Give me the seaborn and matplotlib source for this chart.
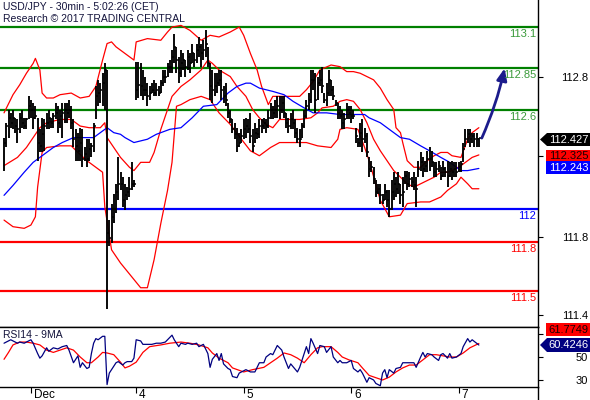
import matplotlib
matplotlib.use("Agg")
import matplotlib.pyplot as plt
from matplotlib.patches import Polygon
from matplotlib.lines import Line2D
import numpy as np
import pandas as pd
import seaborn as sns

# ---------------- data (USD/JPY 30min bars) ----------------
high = [
112.43,112.52,112.60,112.58,112.60,112.55,112.54,112.58,112.60,112.55,
112.55,112.68,112.66,112.64,112.62,112.55,112.48,112.55,112.54,112.58,
112.60,112.55,112.58,112.64,112.62,112.60,112.64,112.64,112.64,112.66,
112.62,112.54,112.48,112.46,112.49,112.48,112.37,112.42,112.42,112.40,
112.52,112.74,112.78,112.76,112.82,112.88,112.84,111.93,112.03,112.09,
112.15,112.31,112.22,112.19,112.15,112.13,112.19,112.28,112.17,112.89,
112.89,112.88,112.84,112.80,112.76,112.74,112.76,112.78,112.76,112.74,
112.78,112.84,112.84,112.88,112.90,112.96,113.06,112.98,112.92,112.96,
112.94,112.90,112.96,112.94,113.00,112.94,113.00,113.04,113.00,113.02,
113.08,112.98,112.88,112.84,112.82,112.82,112.84,112.84,112.74,112.76,
112.64,112.60,112.54,112.52,112.49,112.46,112.48,112.54,112.55,112.54,
112.58,112.48,112.52,112.49,112.54,112.54,112.55,112.54,112.60,112.64,
112.62,112.66,112.68,112.68,112.68,112.68,112.58,112.55,112.58,112.60,
112.54,112.49,112.48,112.52,112.60,112.66,112.70,112.84,112.84,112.82,
112.80,112.84,112.86,112.70,112.76,112.84,112.78,112.74,112.66,112.64,
112.62,112.60,112.58,112.64,112.62,112.62,112.60,112.49,112.43,112.52,
112.54,112.49,112.46,112.31,112.29,112.25,112.17,112.15,112.15,112.09,
112.15,112.11,112.11,112.17,112.22,112.19,112.22,112.15,112.19,112.23,
112.23,112.22,112.19,112.22,112.19,112.29,112.34,112.31,112.29,112.35,
112.37,112.35,112.28,112.28,112.29,112.25,112.29,112.25,112.29,112.28,
112.29,112.28,112.28,112.28,112.29,112.40,112.48,112.48,112.48,112.46,
112.46,112.46,112.43]

low = [
112.23,112.37,112.43,112.49,112.48,112.46,112.40,112.46,112.49,112.48,
112.48,112.54,112.55,112.48,112.54,112.29,112.34,112.34,112.35,112.48,
112.48,112.49,112.49,112.54,112.46,112.49,112.43,112.52,112.52,112.55,
112.48,112.37,112.29,112.29,112.29,112.25,112.29,112.25,112.29,112.31,
112.34,112.54,112.62,112.64,112.62,112.60,111.39,111.77,111.79,111.91,
111.97,112.05,112.11,112.01,111.99,112.05,112.07,112.11,112.13,112.66,
112.67,112.68,112.66,112.68,112.62,112.66,112.70,112.68,112.68,112.68,
112.70,112.74,112.76,112.80,112.82,112.82,112.88,112.82,112.76,112.80,
112.84,112.80,112.84,112.82,112.88,112.86,112.88,112.92,112.86,112.90,
112.92,112.86,112.66,112.64,112.68,112.70,112.74,112.66,112.64,112.62,
112.55,112.52,112.46,112.42,112.34,112.37,112.40,112.42,112.43,112.46,
112.40,112.34,112.40,112.42,112.43,112.46,112.48,112.46,112.49,112.54,
112.54,112.55,112.55,112.54,112.58,112.55,112.49,112.46,112.48,112.48,
112.43,112.40,112.37,112.43,112.49,112.55,112.60,112.64,112.72,112.58,
112.66,112.74,112.70,112.64,112.62,112.68,112.68,112.66,112.62,112.54,
112.54,112.48,112.48,112.54,112.54,112.52,112.54,112.40,112.37,112.37,
112.34,112.40,112.31,112.19,112.22,112.15,112.07,112.09,112.03,112.03,
112.05,112.01,111.95,111.99,112.05,112.07,112.09,112.03,112.01,112.15,
112.11,112.13,112.13,112.11,112.01,112.19,112.23,112.19,112.22,112.22,
112.23,112.25,112.19,112.19,112.22,112.17,112.19,112.19,112.13,112.19,
112.17,112.19,112.19,112.22,112.22,112.28,112.37,112.40,112.37,112.40,
112.37,112.37,112.37]

close = [
112.40,112.50,112.55,112.52,112.55,112.50,112.48,112.55,112.52,112.50,
112.54,112.62,112.60,112.55,112.56,112.40,112.38,112.45,112.50,112.52,
112.55,112.52,112.56,112.58,112.52,112.56,112.58,112.60,112.58,112.60,
112.52,112.42,112.38,112.35,112.40,112.30,112.33,112.30,112.36,112.38,
112.50,112.68,112.70,112.72,112.76,112.84,111.85,111.82,111.95,112.00,
112.10,112.15,112.15,112.05,112.08,112.10,112.12,112.15,112.15,112.72,
112.75,112.74,112.72,112.72,112.68,112.70,112.72,112.70,112.72,112.70,
112.76,112.80,112.80,112.86,112.86,112.92,112.98,112.90,112.82,112.88,
112.90,112.86,112.92,112.88,112.94,112.90,112.96,112.98,112.94,112.96,
113.00,112.88,112.74,112.72,112.74,112.76,112.78,112.72,112.68,112.66,
112.58,112.54,112.48,112.45,112.38,112.40,112.44,112.48,112.50,112.48,
112.44,112.38,112.46,112.45,112.50,112.50,112.52,112.50,112.55,112.60,
112.58,112.60,112.62,112.60,112.64,112.58,112.52,112.50,112.54,112.52,
112.46,112.42,112.42,112.50,112.56,112.62,112.66,112.78,112.78,112.66,
112.76,112.78,112.74,112.66,112.70,112.78,112.72,112.68,112.64,112.58,
112.56,112.52,112.54,112.60,112.58,112.56,112.56,112.44,112.40,112.46,
112.42,112.44,112.34,112.24,112.25,112.18,112.10,112.12,112.08,112.05,
112.10,112.05,112.00,112.10,112.15,112.12,112.15,112.08,112.10,112.20,
112.15,112.18,112.16,112.14,112.12,112.24,112.28,112.24,112.26,112.30,
112.30,112.28,112.22,112.24,112.26,112.20,112.24,112.22,112.20,112.24,
112.22,112.24,112.22,112.25,112.27,112.36,112.42,112.45,112.42,112.44,
112.42,112.42,112.427]

# Bollinger bands (bar index, price)
bb_upper = [(0,112.58),(4,112.69),(7,112.75),(10,112.82),(13,112.88),(14,112.91),(16,112.84),
    (17,112.70),(19,112.67),(22,112.67),(25,112.69),(30,112.70),(34,112.67),(38,112.68),
    (41,112.74),(44,112.90),(46,113.00),(48,113.01),(50,112.98),(54,112.94),(58,112.90),
    (59,113.01),(64,113.03),(70,113.02),(73,113.07),(75,113.10),(79,113.11),(83,113.08),
    (88,113.02),(92,113.05),(96,113.04),(101,113.07),(105,113.10),(107,113.05),(110,112.94),
    (113,112.84),(115,112.74),(118,112.63),(120,112.68),(128,112.68),(132,112.68),(135,112.72),
    (138,112.77),(141,112.84),(146,112.87),(150,112.86),(153,112.83),(156,112.83),(159,112.82),
    (162,112.80),(165,112.78),(168,112.73),(171,112.66),(174,112.60),(175,112.49),(177,112.46),
    (178,112.40),(180,112.29),(183,112.25),(186,112.25),(189,112.29),(192,112.32),(195,112.34),
    (198,112.34),(200,112.32),(204,112.31),(207,112.42),(209,112.46),(212,112.49)]
bb_mid = [(0,112.26),(6,112.31),(10,112.37),(13,112.43),(16,112.49),(19,112.52),(25,112.54),
    (30,112.54),(34,112.50),(38,112.49),(43,112.49),(45,112.52),(46,112.43),(49,112.37),
    (52,112.31),(56,112.25),(58,112.23),(61,112.28),(65,112.28),(67,112.34),(70,112.48),
    (73,112.60),(75,112.68),(79,112.74),(83,112.78),(88,112.84),(91,112.90),(93,112.88),
    (96,112.84),(101,112.80),(104,112.74),(108,112.68),(111,112.60),(114,112.55),(117,112.51),
    (120,112.49),(123,112.54),(128,112.54),(132,112.54),(137,112.55),(140,112.58),(142,112.61),
    (147,112.62),(150,112.65),(153,112.66),(156,112.65),(159,112.60),(162,112.52),(165,112.42),
    (168,112.35),(171,112.29),(174,112.23),(177,112.19),(180,112.15),(183,112.13),(186,112.15),
    (189,112.17),(192,112.19),(195,112.22),(198,112.22),(200,112.23),(204,112.26),(207,112.29),
    (209,112.31),(212,112.325)]
bb_lower = [(0,111.93),(4,111.89),(9,111.88),(12,111.90),(14,111.95),(15,112.13),(17,112.34),
    (19,112.37),(25,112.38),(30,112.38),(33,112.34),(37,112.29),(41,112.25),(44,112.22),
    (45,112.01),(48,111.75),(52,111.67),(58,111.57),(61,111.52),(64,111.52),(67,111.69),
    (70,111.91),(73,112.11),(75,112.28),(77,112.62),(79,112.63),(83,112.66),(88,112.68),
    (92,112.66),(96,112.58),(101,112.51),(106,112.42),(110,112.35),(114,112.32),(119,112.37),
    (123,112.40),(128,112.40),(135,112.40),(140,112.38),(146,112.37),(149,112.42),(150,112.48),
    (153,112.49),(158,112.48),(161,112.37),(163,112.29),(168,112.05),(172,111.95),(177,111.96),
    (180,112.03),(186,112.04),(190,112.04),(195,112.07),(198,112.11),(202,112.15),(204,112.19),
    (207,112.15),(209,112.12),(212,112.12)]
ma_blue = [(0,112.08),(4,112.14),(9,112.22),(13,112.28),(17,112.32),(22,112.37),(26,112.40),
    (31,112.43),(35,112.43),(40,112.43),(43,112.46),(46,112.49),(49,112.46),(52,112.45),
    (54,112.43),(58,112.40),(64,112.42),(68,112.45),(74,112.48),(79,112.49),(84,112.55),
    (89,112.62),(95,112.63),(100,112.70),(104,112.74),(108,112.76),(110,112.76),(114,112.73),
    (120,112.71),(125,112.69),(129,112.65),(134,112.61),(138,112.58),(144,112.58),(150,112.57),
    (156,112.57),(161,112.57),(163,112.55),(168,112.52),(172,112.48),(177,112.43),(181,112.42),
    (186,112.38),(190,112.35),(195,112.31),(199,112.28),(204,112.23),(207,112.23),(212,112.243)]

# RSI(14) and its 9-period MA (bar index, value)
rsi14 = [(0,62),(3,65),(6,62),(7,63),(9,62),(12,65),(13,62),(15,53),(16,49),(17,51),(19,58),
    (20,55),(22,58),(24,57),(26,59),(28,60),(29,56),(31,45),(33,51),(34,41),(35,45),(37,40),
    (38,41),(39,53),(40,62),(41,66),(42,65),(44,68),(45,68),(46,26),(47,36),(48,39),(50,45),
    (51,46),(53,43),(54,45),(55,46),(57,46),(58,49),(59,65),(61,64),(62,61),(64,61),(66,61),
    (68,62),(70,62),(72,63),(73,65),(75,69),(76,65),(78,59),(79,62),(81,61),(82,62),(84,61),
    (86,62),(87,59),(89,61),(91,53),(92,41),(93,48),(95,53),(96,47),(97,53),(98,44),(100,40),
    (101,39),(102,33),(104,32),(105,36),(108,39),(110,37),(112,37),(114,45),(116,45),(117,50),
    (119,53),(120,52),(122,60),(124,56),(125,50),(127,40),(128,44),(131,37),(132,41),(134,53),
    (135,59),(136,53),(137,66),(138,62),(140,53),(141,60),(143,59),(144,54),(146,59),(147,50),
    (149,45),(150,47),(151,45),(153,45),(155,47),(156,40),(158,37),(159,39),(160,36),(162,28),
    (163,32),(165,30),(166,27),(168,25),(169,36),(170,39),(171,32),(172,39),(174,36),(175,40),
    (177,41),(178,45),(180,45),(181,45),(183,45),(184,41),(186,50),(187,54),(188,50),(189,53),
    (191,52),(192,50),(194,47),(195,52),(196,53),(198,49),(199,53),(200,49),(202,50),(204,53),
    (205,59),(207,66),(208,63),(209,65),(211,62),(212,60.4246)]
rsi_ma9 = [(0,48),(2,54),(4,60.5),(7,63),(10,63),(13,62),(16,60.5),(19,56),(22,54),(25,56),
    (28,58),(31,56),(34,50),(37,45),(39,45),(42,50),(44,54),(46,53.5),(49,52),(52,45.5),
    (54,40.5),(56,42),(59,45.5),(62,54),(65,59),(70,60.5),(74,62),(79,63),(83,62),(87,60.5),
    (91,58),(93,53.5),(96,49),(100,45),(102,40.5),(107,37),(111,39),(116,41),(119,45),
    (122,49),(125,53.5),(128,52),(131,49),(134,45),(137,52),(140,58),(142,59),(146,59),
    (149,54),(151,50),(154,47.5),(158,45),(160,40.5),(163,34),(166,32),(169,30),(172,32.5),
    (175,37),(178,40.5),(181,43),(184,43),(187,47.5),(190,52),(193,52),(196,51),(199,50),
    (202,50),(205,53.5),(208,58),(212,61.7749)]

levels = [113.1, 112.85, 112.6, 112.0, 111.8, 111.5]
level_labels = ["113.1", "112.85", "112.6", "112", "111.8", "111.5"]
level_colors = ["#008000", "#008000", "#008000", "#0000ff", "#ff0000", "#ff0000"]
level_text_colors = ["#3a9a3a", "#3a9a3a", "#3a9a3a", "#0000ff", "#ff0000", "#ff0000"]
target = 112.85

day_ticks = [12, 59, 107, 155, 203]
day_labels = ["Dec", "4", "5", "6", "7"]

price_ticks = [112.8, 112.32, 111.83, 111.355]
price_tick_labels = ["112.8", "", "111.8", "111.4"]
rsi_ticks = [70, 50, 30]
rsi_tick_labels = ["", "50", "30"]

# ---------------- figure ----------------
sns.set_style("white")
plt.rcParams['font.family'] = ['Liberation Sans', 'DejaVu Sans']

W, H = 590, 400
fig = plt.figure(figsize=(W / 100, H / 100), dpi=100)
def fx(px): return px / W
def fy(py): return 1 - py / H

ax = fig.add_axes([0, fy(327), fx(538), 327 / H])
axr = fig.add_axes([0, fy(387), fx(538), 60 / H], sharex=ax)

# level lines
for lv, c in zip(levels, level_colors):
    ax.axhline(lv, color=c, lw=1.6, zorder=1)
for lv, lab, c in zip(levels, level_labels, level_text_colors):
    ax.annotate(lab, xy=(1, lv), xycoords=('axes fraction', 'data'), xytext=(-1.5, -1.5),
                textcoords='offset points', ha='right', va='top', color=c, fontsize=8, zorder=6)

# bands and MA through seaborn
for pts, col in [(bb_upper, 'red'), (bb_mid, 'red'), (bb_lower, 'red'), (ma_blue, '#0000ff')]:
    d = pd.DataFrame(pts, columns=['i', 'v'])
    sns.lineplot(data=d, x='i', y='v', ax=ax, color=col, lw=0.9, zorder=2)

# bars (high-low with close tick)
idx = np.arange(len(high))
ax.vlines(idx, low, high, color='black', lw=1.35, zorder=3)
ax.hlines(close, idx, idx + 0.9, color='black', lw=1.1, zorder=3)

# projection arrow
n = len(close)
ax.annotate('', xy=(n + 10.5, target), xytext=(n + 0.3, close[-1]),
            arrowprops=dict(arrowstyle='-|>,head_length=0.7,head_width=0.3', color='#1c1c8c',
                            lw=2, shrinkA=0, shrinkB=0, connectionstyle='arc3,rad=0.05'), zorder=5)

ax.set_xlim(-1.8, 238.4)
ax.set_ylim(111.282, 113.264)
ax.set_xlabel(''); ax.set_ylabel('')

# RSI panel
for pts, col in [(rsi_ma9, 'red'), (rsi14, '#000080')]:
    d = pd.DataFrame(pts, columns=['i', 'v'])
    sns.lineplot(data=d, x='i', y='v', ax=axr, color=col, lw=0.9)
axr.set_ylim(23.9, 76.1)
axr.set_xlabel(''); axr.set_ylabel('')

# spines / ticks
for a in (ax, axr):
    a.spines['left'].set_visible(False)
    for s in ('right', 'bottom', 'top'):
        a.spines[s].set_color('black'); a.spines[s].set_linewidth(1.0)
    a.yaxis.tick_right()
    a.tick_params(axis='y', which='both', left=False, right=True, direction='out', length=3.6,
                  width=0.8, color='black', labelsize=8, labelcolor='black', pad=32.4)
ax.spines['top'].set_visible(False)
ax.tick_params(axis='x', bottom=False, labelbottom=False)
ax.set_yticks(price_ticks)
ax.set_yticklabels(price_tick_labels)
axr.set_yticks(rsi_ticks)
axr.set_yticklabels(rsi_tick_labels)
for a in (ax, axr):
    for t in a.get_yticklabels():
        t.set_horizontalalignment('right')
axr.set_xticks(day_ticks)
axr.set_xticklabels([''] * len(day_ticks))
axr.tick_params(axis='x', bottom=True, direction='out', length=4, width=0.8, color='black')
for t, lab in zip(day_ticks, day_labels):
    axr.annotate(lab, xy=(t, 0), xycoords=('data', 'axes fraction'), xytext=(2, -1.5),
                 textcoords='offset points', ha='left', va='top', fontsize=8.5, color='black')

# right axis line running to bottom
fig.add_artist(Line2D([fx(538), fx(538)], [fy(387), 0], transform=fig.transFigure, color='black', lw=1.0))

# titles
fig.text(fx(3), fy(1.5), "USD/JPY - 30min - 5:02:26 (CET)", ha='left', va='top', fontsize=7.5, color='#14143c')
fig.text(fx(3), fy(13.5), "Research \u00a9 2017 TRADING CENTRAL", ha='left', va='top', fontsize=7.5, color='#14143c')
fig.text(fx(3), fy(330), "RSI14 - 9MA", ha='left', va='top', fontsize=7.5, color='#14143c')

# value tags at right
def tag(y0, y1, text, face, tcolor, arrow):
    if arrow:
        pts = [(540, (y0 + y1) / 2), (547, y0), (590, y0), (590, y1), (547, y1)]
    else:
        pts = [(546, y0), (590, y0), (590, y1), (546, y1)]
    fig.add_artist(Polygon([(fx(x), fy(y)) for x, y in pts], closed=True,
                           transform=fig.transFigure, facecolor=face, edgecolor='none'))
    fig.text(fx(588.5), fy((y0 + y1) / 2 + 0.5), text, ha='right', va='center', color=tcolor, fontsize=8)

tag(133, 146, f"{close[-1]:.3f}", '#000000', 'white', True)
tag(150, 161, f"{bb_mid[-1][1]:.3f}", '#ff0000', '#1a0000', False)
tag(161, 174, f"{ma_blue[-1][1]:.3f}", '#0000ff', 'white', False)
tag(323, 336, f"{rsi_ma9[-1][1]:.4f}", '#ff0000', '#1a0000', False)
tag(338, 352, f"{rsi14[-1][1]:.4f}", '#000080', 'white', True)

fig.savefig("out.png", dpi=100)
